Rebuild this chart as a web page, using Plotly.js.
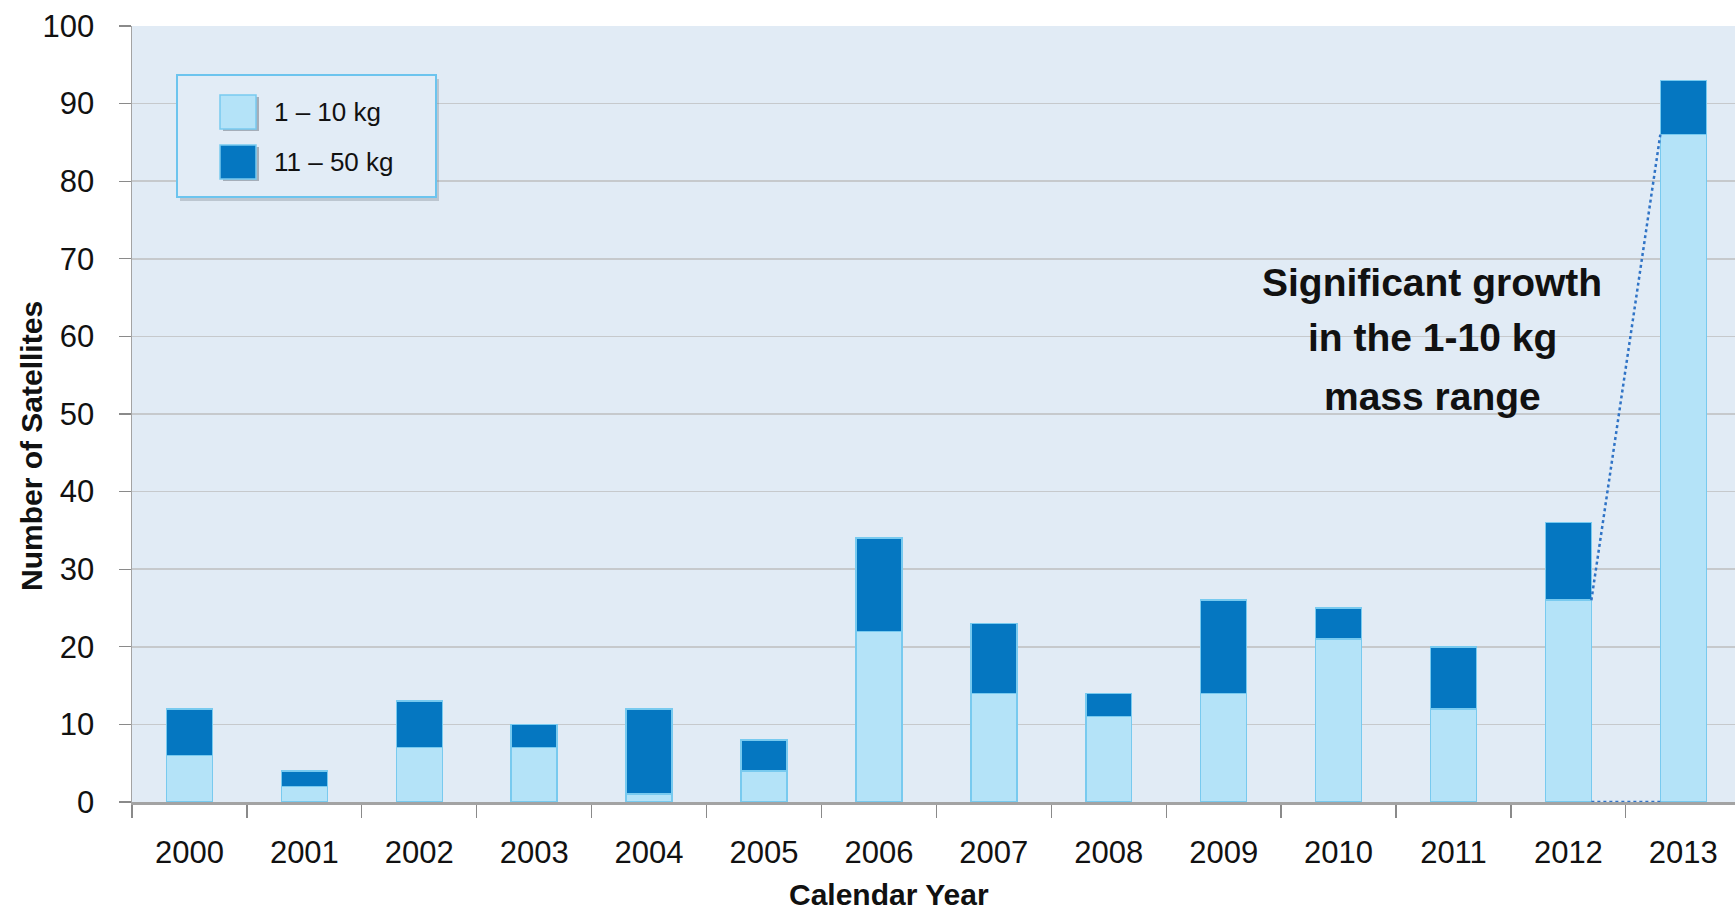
<!DOCTYPE html>
<html>
<head>
<meta charset="utf-8">
<script src="https://cdn.plot.ly/plotly-3.0.1.min.js"></script>
<style>html,body{margin:0;padding:0;background:#fff;}#chart{width:1735px;height:912px;}</style>
</head>
<body>
<div id="chart"></div>
<script>
// ---- data ----
const years = ['2000','2001','2002','2003','2004','2005','2006','2007','2008','2009','2010','2011','2012','2013'];
const small = [6, 2, 7, 7, 1, 4, 22, 14, 11, 14, 21, 12, 26, 86];      // 1 – 10 kg
const medium = [6, 2, 6, 3, 11, 4, 12, 9, 3, 12, 4, 8, 10, 7];          // 11 – 50 kg
const seriesNames = ['1 – 10 kg', '11 – 50 kg'];
const yTicks = [0, 10, 20, 30, 40, 50, 60, 70, 80, 90, 100];
const xTitle = 'Calendar Year';
const yTitle = 'Number of Satellites';
const noteLines = ['Significant growth', 'in the 1-10 kg', 'mass range'];

// ---- style ----
const FONT = '"Liberation Sans Narrow", "Arial Narrow", "Liberation Sans", Arial, sans-serif';
const W = 1735, H = 912;
const M = {l: 132, r: 0, t: 26, b: 110};
const plotW = W - M.l - M.r, plotH = H - M.t - M.b;
const lightFill = '#b4e3f8', darkFill = '#0577c1', barLine = '#78caef';
const barWidth = 0.4;
const px = x => (x - M.l) / plotW;
const py = y => (H - M.b - y) / plotH;

const traces = [
  {type: 'bar', x: years, y: small, name: seriesNames[0], width: barWidth,
   marker: {color: lightFill, line: {color: barLine, width: 1.5}}, showlegend: false, hoverinfo: 'x+y+name'},
  {type: 'bar', x: years, y: medium, name: seriesNames[1], width: barWidth,
   marker: {color: darkFill, line: {color: barLine, width: 1.5}}, showlegend: false, hoverinfo: 'x+y+name'}
];

// connector lines between 2012 and 2013 (derived from data)
const i12 = years.indexOf('2012'), i13 = years.indexOf('2013');
const dotLine = {color: '#2f73c6', width: 2.5, dash: 'dot'};
const shapes = [
  {type: 'line', xref: 'x', yref: 'y', x0: i12 + barWidth/2, y0: small[i12], x1: i13 - barWidth/2, y1: small[i13], line: dotLine},
  {type: 'line', xref: 'x', yref: 'y', x0: i12 + barWidth/2, y0: 0, x1: i13 - barWidth/2, y1: 0, line: dotLine}
];

// legend (custom, built from series names and colors)
const lg = {x0: 177, y0: 75, x1: 436, y1: 197};
shapes.push({type: 'rect', xref: 'paper', yref: 'paper', layer: 'above',
  x0: px(lg.x0 + 3), x1: px(lg.x1 + 3), y0: py(lg.y1 + 4), y1: py(lg.y0 + 4),
  fillcolor: 'rgba(120,130,140,0.35)', line: {width: 0}});
shapes.push({type: 'rect', xref: 'paper', yref: 'paper', layer: 'above',
  x0: px(lg.x0), x1: px(lg.x1), y0: py(lg.y1), y1: py(lg.y0),
  fillcolor: '#e2ecf6', line: {color: '#6cc4ee', width: 2}});
const swatchY = [112, 162];
const swFill = [lightFill, darkFill];
const annotations = [];
seriesNames.forEach((nm, k) => {
  const cy = swatchY[k];
  shapes.push({type: 'rect', xref: 'paper', yref: 'paper', layer: 'above',
    x0: px(223), x1: px(259), y0: py(cy + 19), y1: py(cy - 15),
    fillcolor: 'rgba(90,100,110,0.45)', line: {width: 0}});
  shapes.push({type: 'rect', xref: 'paper', yref: 'paper', layer: 'above',
    x0: px(220), x1: px(256), y0: py(cy + 17), y1: py(cy - 17),
    fillcolor: swFill[k], line: {color: barLine, width: 1.5}});
  annotations.push({xref: 'paper', yref: 'paper', x: px(272), y: py(cy), xanchor: 'left', yanchor: 'middle',
    text: nm, showarrow: false, font: {family: FONT, size: 26, color: '#111'}});
});

// callout text, one annotation per line
const noteY = [282, 337, 396];
noteLines.forEach((t, k) => {
  annotations.push({xref: 'paper', yref: 'paper', x: px(1432), y: py(noteY[k]), xanchor: 'center', yanchor: 'middle',
    text: t, showarrow: false, font: {family: FONT, size: 39, color: '#111', weight: 'bold'}});
});

// axis titles (placed as in the reference, off-centre)
annotations.push({xref: 'paper', yref: 'paper', x: px(889), y: py(894), xanchor: 'center', yanchor: 'middle',
  text: xTitle, showarrow: false, font: {family: FONT, size: 30, color: '#111', weight: 'bold'}});
annotations.push({xref: 'paper', yref: 'paper', x: px(31), y: py(446), xanchor: 'center', yanchor: 'middle',
  text: yTitle, textangle: -90, showarrow: false, font: {family: FONT, size: 30, color: '#111', weight: 'bold'}});

const layout = {
  width: W, height: H,
  margin: {l: M.l, r: M.r, t: M.t, b: M.b, pad: 0},
  paper_bgcolor: '#ffffff', plot_bgcolor: '#e1ebf5',
  barmode: 'stack',
  font: {family: FONT, color: '#111'},
  xaxis: {
    type: 'category', range: [-0.5, 13.45], fixedrange: true,
    showline: true, linecolor: '#a3a3a3', linewidth: 3,
    ticks: 'outside', tickson: 'boundaries', ticklen: 13, tickcolor: '#8a8a8a', tickwidth: 1.2,
    tickfont: {family: FONT, size: 31, color: '#111'}, ticklabelstandoff: 21,
    showgrid: false
  },
  yaxis: {
    range: [0, 100], tickvals: yTicks, fixedrange: true,
    showline: true, linecolor: '#a3a3a3', linewidth: 1.5,
    ticks: 'outside', ticklen: 12, tickcolor: '#8a8a8a', tickwidth: 1.2,
    tickfont: {family: FONT, size: 31, color: '#111'}, ticklabelstandoff: 18,
    showgrid: true, gridcolor: '#c6c9cc', gridwidth: 1.5, zeroline: false
  },
  shapes: shapes,
  annotations: annotations
};

Plotly.newPlot('chart', traces, layout, {displayModeBar: false, staticPlot: true});
</script>
</body>
</html>
